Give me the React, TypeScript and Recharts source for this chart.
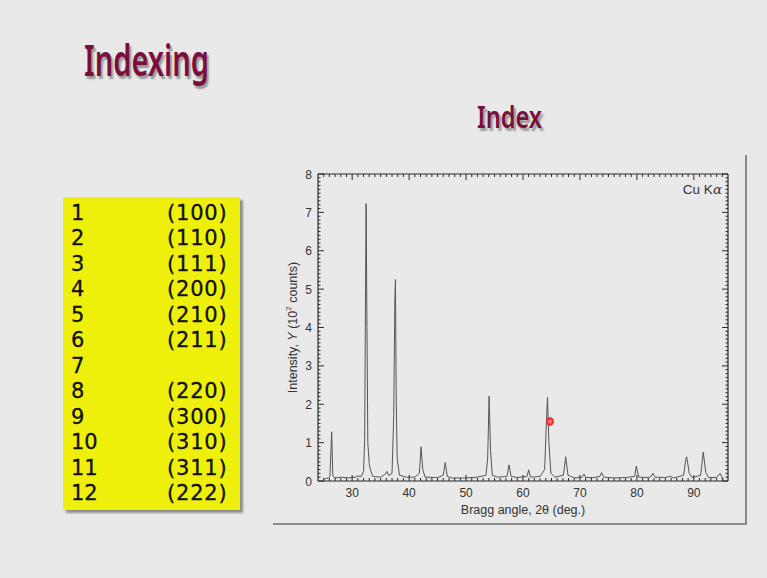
import React from 'react';
import { LineChart, Line, XAxis, YAxis, Label } from 'recharts';

// Diffraction pattern: 2θ (deg.) and intensity (10^2 counts)
const twoTheta = [
  25.0, 25.8, 26.1, 26.4, 26.6, 26.9, 28.0, 29.5, 30.5, 31.0, 31.6, 32.0, 32.2, 32.35, 32.45,
  32.6, 32.75, 33.0, 33.2, 33.6, 35.0, 35.8, 36.1, 36.4, 37.0, 37.3, 37.5, 37.6, 37.75, 37.9,
  38.3, 39.5, 41.0, 41.8, 42.1, 42.4, 42.8, 45.0, 46.0, 46.35, 46.7, 47.5, 50.0, 52.0, 53.5,
  53.8, 54.05, 54.3, 54.6, 55.5, 57.2, 57.55, 57.9, 59.0, 60.7, 61.0, 61.3, 63.0, 63.8, 64.1,
  64.3, 64.55, 64.9, 65.6, 67.1, 67.5, 67.9, 69.0, 70.4, 70.7, 71.0, 72.5, 73.5, 73.8, 74.2,
  76.0, 78.0, 79.6, 79.9, 80.3, 82.0, 82.5, 82.8, 83.2, 85.0, 85.8, 86.5, 88.2, 88.6, 88.75,
  89.2, 89.7, 91.2, 91.65, 92.1, 92.6, 94.0, 94.6, 95.0, 95.3,
];
const intensity = [
  0.05, 0.08, 0.12, 1.28, 0.15, 0.08, 0.1, 0.08, 0.1, 0.13, 0.12, 0.25, 1.1, 5.0, 7.23,
  4.0, 1.0, 0.45, 0.3, 0.12, 0.1, 0.18, 0.25, 0.14, 0.2, 1.7, 4.75, 5.25, 2.0, 0.6,
  0.15, 0.1, 0.1, 0.2, 0.89, 0.3, 0.1, 0.09, 0.15, 0.48, 0.12, 0.08, 0.08, 0.1, 0.15,
  0.6, 2.21, 0.8, 0.15, 0.1, 0.12, 0.42, 0.12, 0.09, 0.12, 0.29, 0.1, 0.12, 0.3, 1.5,
  2.18, 1.0, 0.2, 0.1, 0.15, 0.63, 0.15, 0.08, 0.1, 0.18, 0.09, 0.09, 0.12, 0.22, 0.1,
  0.08, 0.09, 0.12, 0.39, 0.1, 0.09, 0.12, 0.2, 0.1, 0.09, 0.12, 0.08, 0.15, 0.58, 0.63,
  0.2, 0.09, 0.15, 0.75, 0.22, 0.09, 0.09, 0.2, 0.08, 0.05,
];

const peakNumbers = ['1', '2', '3', '4', '5', '6', '7', '8', '9', '10', '11', '12'];
const millerIndices = ['(100)', '(110)', '(111)', '(200)', '(210)', '(211)', '', '(220)', '(300)', '(310)', '(311)', '(222)'];

const xMajor = [30, 40, 50, 60, 70, 80, 90];
const yMajor = [0, 1, 2, 3, 4, 5, 6, 7, 8];
const xTicks = Array.from({ length: 71 }, (_, i) => 25 + i);
const yTicks = Array.from({ length: 81 }, (_, i) => i / 10);

const data = twoTheta.map((x, i) => ({ x, y: intensity[i] }));

const INK = '#2b2b2b';
const isMajorY = (v: number) => yMajor.some((m) => Math.abs(m - v) < 1e-6);

const BottomTick = ({ x, y, payload }: any) => {
  const major = xMajor.includes(payload.value);
  return (
    <g>
      <line x1={x} x2={x} y1={y} y2={y - (major ? 6 : 3)} stroke={INK} strokeWidth={1} />
      {major && (
        <text x={x} y={y + 16} textAnchor="middle" fontSize={12} fill="#333">
          {payload.value}
        </text>
      )}
    </g>
  );
};

const TopTick = ({ x, y, payload }: any) => {
  const major = xMajor.includes(payload.value);
  return <line x1={x} x2={x} y1={y} y2={y + (major ? 6 : 3)} stroke={INK} strokeWidth={1} />;
};

const LeftTick = ({ x, y, payload }: any) => {
  const major = isMajorY(payload.value);
  return (
    <g>
      <line x1={x} x2={x + (major ? 6 : 2.5)} y1={y} y2={y} stroke={INK} strokeWidth={1} />
      {major && (
        <text x={x - 6} y={y + 4.5} textAnchor="end" fontSize={12} fill="#333">
          {Math.round(payload.value)}
        </text>
      )}
    </g>
  );
};

const RightTick = ({ x, y, payload }: any) => {
  const major = isMajorY(payload.value);
  return <line x1={x} x2={x - (major ? 6 : 2.5)} y1={y} y2={y} stroke={INK} strokeWidth={1} />;
};

const YTitle = ({ viewBox }: any) => {
  const cx = viewBox.x + 21;
  const cy = viewBox.y + viewBox.height / 2;
  return (
    <text x={cx} y={cy} transform={`rotate(-90 ${cx} ${cy})`} textAnchor="middle" dominantBaseline="central" fontSize={12.5} fill="#333">
      <tspan>Intensity, </tspan>
      <tspan fontStyle="italic">Y</tspan>
      <tspan> (10</tspan>
      <tspan fontSize={8} dy={-5}>2</tspan>
      <tspan dy={5}> counts)</tspan>
    </text>
  );
};

const titleStyle: React.CSSProperties = {
  position: 'absolute',
  color: '#7a0f3e',
  fontFamily: '"Noto Sans", sans-serif',
  fontWeight: 600,
  textShadow: '3px 3px 2px #9a9a9a',
  whiteSpace: 'nowrap',
  transformOrigin: 'left top',
};

export default function App() {
  return (
    <div
      style={{
        position: 'absolute',
        left: 0,
        top: 0,
        width: 767,
        height: 578,
        background: '#e9e9e9',
        fontFamily: '"Liberation Sans", Arial, sans-serif',
        overflow: 'hidden',
      }}
    >
      <div style={{ ...titleStyle, left: 84, top: 33, fontSize: 44, lineHeight: '52px', transform: 'scaleX(0.66)' }}>Indexing</div>
      <div style={{ ...titleStyle, left: 477, top: 97, fontSize: 31, lineHeight: '38px', transform: 'scaleX(0.76)' }}>Index</div>

      {/* peak index table */}
      <div
        style={{
          position: 'absolute',
          left: 63,
          top: 197,
          width: 177,
          height: 313,
          background: '#efef0c',
          boxShadow: '3px 3px 2px #8f8f8f',
        }}
      >
        {peakNumbers.map((n, i) => (
          <div
            key={n}
            style={{
              position: 'absolute',
              top: 4 + i * 25.45,
              left: 0,
              width: '100%',
              height: 25,
              lineHeight: '25px',
              fontFamily: '"DejaVu Sans", sans-serif',
              fontSize: 21,
              color: '#111',
              WebkitTextStroke: '0.3px #111',
            }}
          >
            <span style={{ position: 'absolute', left: 8 }}>{n}</span>
            <span style={{ position: 'absolute', left: 104, letterSpacing: 0.8 }}>{millerIndices[i]}</span>
          </div>
        ))}
      </div>

      {/* chart panel frame */}
      <div style={{ position: 'absolute', left: 745, top: 155, width: 2, height: 370, background: '#8a8a8a' }} />
      <div style={{ position: 'absolute', left: 273, top: 523, width: 474, height: 2, background: '#8a8a8a' }} />

      <div style={{ position: 'absolute', left: 272, top: 155, width: 474, height: 368 }}>
        <LineChart width={474} height={368} data={data} margin={{ top: 18, right: 17, bottom: 0, left: 0 }}>
          <XAxis
            xAxisId="b"
            type="number"
            dataKey="x"
            domain={[24, 96]}
            allowDataOverflow
            ticks={xTicks}
            interval={0}
            height={42}
            tickSize={0}
            tickMargin={0}
            tickLine={false}
            tick={BottomTick}
            axisLine={{ stroke: INK, strokeWidth: 1.2 }}
          >
            <Label value="Bragg angle, 2θ (deg.)" position="insideBottom" offset={9} fontSize={12.5} fill="#333" />
          </XAxis>
          <XAxis
            xAxisId="t"
            orientation="top"
            type="number"
            dataKey="x"
            domain={[24, 96]}
            allowDataOverflow
            ticks={xTicks}
            interval={0}
            height={1}
            tickSize={0}
            tickMargin={0}
            tickLine={false}
            tick={TopTick}
            axisLine={{ stroke: INK, strokeWidth: 1.2 }}
          />
          <YAxis
            yAxisId="l"
            type="number"
            domain={[0, 8]}
            allowDataOverflow
            ticks={yTicks}
            interval={0}
            width={46}
            tickSize={0}
            tickMargin={0}
            tickLine={false}
            tick={LeftTick}
            axisLine={{ stroke: INK, strokeWidth: 1.2 }}
            label={<YTitle />}
          />
          <YAxis
            yAxisId="r"
            orientation="right"
            type="number"
            domain={[0, 8]}
            allowDataOverflow
            ticks={yTicks}
            interval={0}
            width={1}
            tickSize={0}
            tickMargin={0}
            tickLine={false}
            tick={RightTick}
            axisLine={{ stroke: INK, strokeWidth: 1.2 }}
          />
          <Line
            xAxisId="b"
            yAxisId="l"
            type="linear"
            dataKey="y"
            stroke="#555"
            strokeWidth={1}
            dot={false}
            isAnimationActive={false}
          />
          <Line
            xAxisId="t"
            yAxisId="r"
            type="linear"
            dataKey="y"
            stroke="none"
            dot={false}
            legendType="none"
            isAnimationActive={false}
          />
        </LineChart>
        <div style={{ position: 'absolute', right: 24, top: 26, fontSize: 13.5, color: '#333' }}>
          Cu K<span style={{ fontFamily: '"DejaVu Serif", serif', fontStyle: 'italic' }}>α</span>
        </div>
      </div>

      {/* laser pointer spot */}
      <div
        style={{
          position: 'absolute',
          left: 546,
          top: 417,
          width: 8,
          height: 9,
          borderRadius: '50%',
          background: 'radial-gradient(circle, #ff9a9a 0%, #e8262a 55%, rgba(232,38,42,0.3) 100%)',
        }}
      />
    </div>
  );
}
